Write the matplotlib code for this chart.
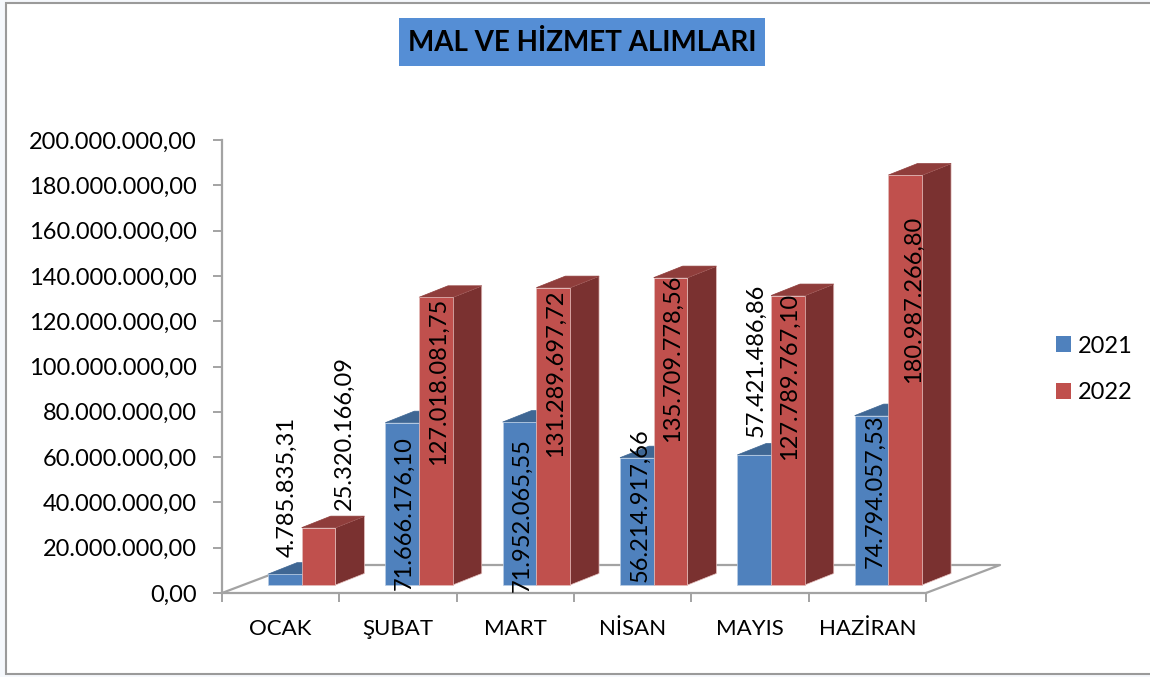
#%% Settings/Imports
import matplotlib
matplotlib.use('Agg')
import matplotlib.pyplot as plt
from matplotlib.patches import Patch, Rectangle

plt.rcParams['font.family'] = ['Lato', 'DejaVu Sans']

#Data
MONTHS = ['OCAK', 'ŞUBAT', 'MART', 'NİSAN', 'MAYIS', 'HAZİRAN']
VALUES_2021 = [4785835.31, 71666176.10, 71952065.55, 56214917.66, 57421486.86, 74794057.53]
VALUES_2022 = [25320166.09, 127018081.75, 131289697.72, 135709778.56, 127789767.10, 180987266.80]
LABELS_2021 = ['4.785.835,31', '71.666.176,10', '71.952.065,55', '56.214.917,66', '57.421.486,86', '74.794.057,53']
LABELS_2022 = ['25.320.166,09', '127.018.081,75', '131.289.697,72', '135.709.778,56', '127.789.767,10', '180.987.266,80']
Y_TICKS = [0, 20e6, 40e6, 60e6, 80e6, 100e6, 120e6, 140e6, 160e6, 180e6, 200e6]
Y_TICK_LABELS = ['0,00', '20.000.000,00', '40.000.000,00', '60.000.000,00', '80.000.000,00', '100.000.000,00',
                 '120.000.000,00', '140.000.000,00', '160.000.000,00', '180.000.000,00', '200.000.000,00']
TITLE = 'MAL VE HİZMET ALIMLARI'

#Plot settings (pixels on a 1150x677 canvas)
W, H = 1150, 677
AX_LEFT, AX_RIGHT, AX_TOP, AX_BOTTOM = 222, 926, 140, 593
CAT_PX = (AX_RIGHT - AX_LEFT) / len(MONTHS)
VAL_PX = (AX_BOTTOM - AX_TOP) / Y_TICKS[-1]
FONT = 17
GRAY = '#a3a3a3'

#Label offsets from the bar top centre, pixels
SHIFT_2021 = [(2, 17), (2, -167), (3, -170), (3, -124), (2, 18), (4, -152)]
SHIFT_2022 = [(26, 18), (2, -168), (2, -169), (2, -164), (1, -164), (8, -208)]

#Pixel offsets in data units
def dx(px):
    return px / CAT_PX

def dy(px):
    return px / VAL_PX

FLOOR_X, FLOOR_Y = dx(74), dy(28)
BASE_X, BASE_Y = dx(21), dy(8)
DEPTH_X, DEPTH_Y = dx(29), dy(11.5)
BAR_W = dx(33.7)
BAR_START = dx(46) - BASE_X


def draw_bar(ax, x, value, front, top, side, edge):
    x0 = x + BASE_X
    x1 = x0 + BAR_W
    y0 = BASE_Y
    y1 = BASE_Y + value
    ax.fill([x1, x1 + DEPTH_X, x1 + DEPTH_X, x1], [y0, y0 + DEPTH_Y, y1 + DEPTH_Y, y1],
            fc=side, lw=0.5, ec=edge, clip_on=False, zorder=3)
    ax.fill([x0, x0 + DEPTH_X, x1 + DEPTH_X, x1], [y1, y1 + DEPTH_Y, y1 + DEPTH_Y, y1],
            fc=top, lw=0.5, ec=top, clip_on=False, zorder=3)
    ax.fill([x0, x1, x1, x0], [y0, y0, y1, y1],
            fc=front, lw=0.5, ec=edge, clip_on=False, zorder=3)
    return x0 + BAR_W / 2, y1


fig = plt.figure(figsize=(W / 100, H / 100), dpi=100, facecolor='#f5f8fc')
fig.add_artist(Rectangle((5.5 / W, 3 / H), 1, (H - 5.5) / H, transform=fig.transFigure,
                         fc='white', ec='#9a9a9a', lw=1.5, zorder=-1))

ax = fig.add_axes([AX_LEFT / W, 1 - AX_BOTTOM / H, (AX_RIGHT - AX_LEFT) / W, (AX_BOTTOM - AX_TOP) / H])
ax.patch.set_alpha(0)
ax.set_xlim(0, len(MONTHS))
ax.set_ylim(0, Y_TICKS[-1])

#Floor outline
n = len(MONTHS)
ax.plot([0, FLOOR_X, n + FLOOR_X, n], [0, FLOOR_Y, FLOOR_Y, 0], color=GRAY, lw=1.6, clip_on=False, zorder=1)

for i in range(n):
    xc = i + BAR_START
    x_a, y_a = draw_bar(ax, xc, VALUES_2021[i], '#4f81bd', '#3f6794', '#3f6794', '#b9cde4')
    x_b, y_b = draw_bar(ax, xc + BAR_W, VALUES_2022[i], '#c0504d', '#8f3d3b', '#7a3130', '#e3bdbb')
    ax.annotate(LABELS_2021[i], (x_a, y_a), xytext=SHIFT_2021[i], textcoords='offset pixels', rotation=90,
                ha='center', va='bottom', fontsize=FONT, color='black', zorder=5, annotation_clip=False)
    ax.annotate(LABELS_2022[i], (x_b, y_b), xytext=SHIFT_2022[i], textcoords='offset pixels', rotation=90,
                ha='center', va='bottom', fontsize=FONT, color='black', zorder=5, annotation_clip=False)

#Axes
for s in ['top', 'right']:
    ax.spines[s].set_visible(False)
for s in ['left', 'bottom']:
    ax.spines[s].set_color(GRAY)
    ax.spines[s].set_linewidth(1.6)
ax.set_yticks(Y_TICKS)
ax.set_yticklabels(Y_TICK_LABELS, fontsize=FONT)
ax.set_xticks(range(n + 1))
ax.set_xticklabels([])
ax.set_xticks([i + 0.5 for i in range(n)], minor=True)
ax.set_xticklabels(MONTHS, minor=True, fontsize=FONT - 1)
ax.tick_params(axis='y', length=6.5, width=1.4, color=GRAY, pad=11.5)
ax.tick_params(axis='x', which='major', length=6.5, width=1.4, color=GRAY)
ax.tick_params(axis='x', which='minor', length=0, pad=19)

#Legend
handles = [Patch(fc='#4f81bd', ec='none', label='2021'), Patch(fc='#c0504d', ec='none', label='2022')]
fig.legend(handles=handles, loc='center left', bbox_to_anchor=(1056 / W, 1 - 369.5 / H), borderaxespad=0, borderpad=0,
           frameon=False, fontsize=FONT, handlelength=0.64, handleheight=0.64, handletextpad=0.3, labelspacing=1.1)

#Title box
fig.add_artist(Rectangle((399 / W, 1 - 66 / H), 366 / W, 48 / H, transform=fig.transFigure, fc='#558ed5', ec='none'))
fig.text(582 / W, 1 - 43 / H, TITLE, ha='center', va='center', fontsize=20, fontweight='bold', color='black')

fig.savefig('out.png', dpi=100, facecolor=fig.get_facecolor())
